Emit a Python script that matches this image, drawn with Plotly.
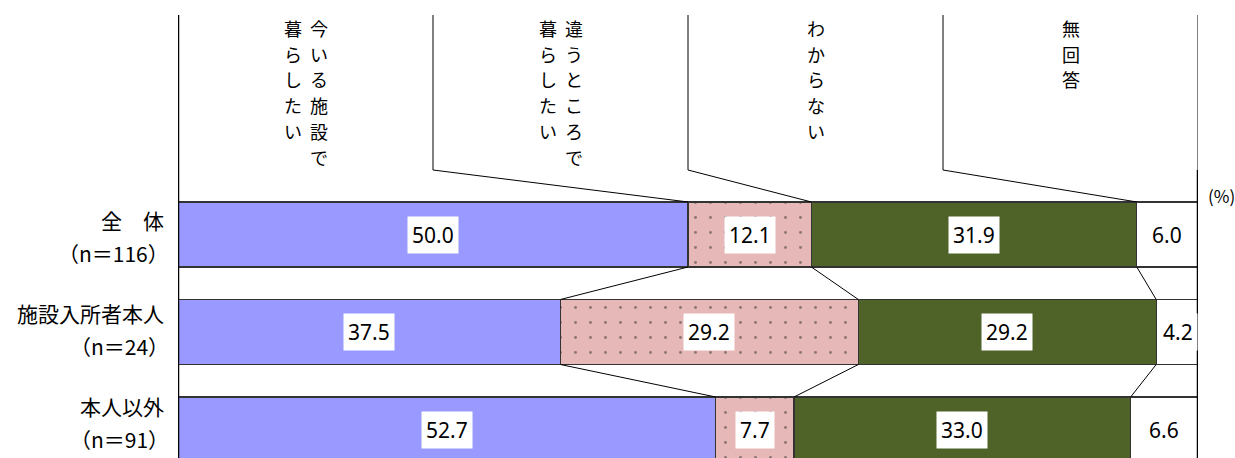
import plotly.graph_objects as go

# データ
rows = ["全　体", "施設入所者本人", "本人以外"]
ns = ["（n＝116）", "（n＝24）", "（n＝91）"]
cats = ["今いる施設で暮らしたい", "違うところで暮らしたい", "わからない", "無回答"]
# ヘッダーの縦書き (右列 → 左列)
header_cols = [["今いる施設で", "暮らしたい"], ["違うところで", "暮らしたい"], ["わからない"], ["無回答"]]
v_stay = [50.0, 37.5, 52.7]
v_move = [12.1, 29.2, 7.7]
v_unknown = [31.9, 29.2, 33.0]
v_na = [6.0, 4.2, 6.6]

FONT = "Noto Sans CJK JP, sans-serif"
NUM_FONT = "Noto Sans, sans-serif"
COLORS = ["#9999FF", "#E6B8B7", "#4F6228", "#FFFFFF"]
LINE = "#333333"

series = [v_stay, v_move, v_unknown, v_na]
ys = list(range(len(rows)))
BAR_W = 0.667
PX = 97.5  # 1 行あたりのピクセル
Y0 = 234.5  # 1 行目の中心 (px)


def py(p):
    # ピクセル位置 → y データ座標
    return (p - Y0) / PX


def pxp(p):
    # ピクセル位置 → x paper 座標
    return (p - 178) / 1020


fig = go.Figure()
for i, (name, vals) in enumerate(zip(cats, series)):
    marker = dict(color=COLORS[i], line=dict(color=LINE, width=1.3))
    if i == 1:
        marker["pattern"] = dict(shape=".", fgcolor="#333333", bgcolor=COLORS[i],
                                 size=15, solidity=0.03, fillmode="overlay")
    fig.add_trace(go.Bar(x=vals, y=ys, orientation="h", name=name, width=BAR_W,
                         marker=marker, showlegend=False, hoverinfo="skip"))

# 累積値
cums = []
for r in range(len(rows)):
    c, acc = [], 0.0
    for s in series:
        acc += s[r]
        c.append(acc)
    cums.append(c)

shapes = []
# 行間の接続線
for r in range(len(rows) - 1):
    for k in range(3):
        shapes.append(dict(type="line", xref="x", yref="y",
                           x0=cums[r][k], y0=r + BAR_W / 2, x1=cums[r + 1][k], y1=r + 1 - BAR_W / 2,
                           line=dict(color="black", width=1)))

# ヘッダーの引き出し線
y_top = py(15)
y_knee = py(170)
for k in range(3):
    xc = 25 * (k + 1)
    shapes.append(dict(type="line", xref="x", yref="y", x0=xc, y0=y_top, x1=xc, y1=y_knee,
                       line=dict(color="black", width=1)))
    shapes.append(dict(type="line", xref="x", yref="y", x0=xc, y0=y_knee, x1=cums[0][k], y1=-BAR_W / 2,
                       line=dict(color="black", width=1)))
shapes.append(dict(type="line", xref="x", yref="y", x0=100, y0=y_top, x1=100, y1=y_knee,
                   line=dict(color="black", width=1)))

y_bottom = py(458)
# 軸線
shapes.append(dict(type="line", xref="x", yref="y", x0=0, y0=y_top, x1=0, y1=y_bottom + 0.1,
                   line=dict(color="black", width=2.5)))
shapes.append(dict(type="line", xref="x", yref="y", x0=100, y0=y_knee, x1=100, y1=y_bottom + 0.1,
                   line=dict(color="black", width=2.5)))

annotations = []
# 値ラベル
for r in range(len(rows)):
    for k, s in enumerate(series):
        annotations.append(dict(x=cums[r][k] - s[r] / 2, y=r, xref="x", yref="y",
                                text=f"{s[r]:.1f}", showarrow=False, bgcolor="white",
                                borderpad=4, font=dict(size=21, color="black", family=NUM_FONT)))

# 行ラベル (2 行表示)
for r in range(len(rows)):
    shift = 4.5 * r
    annotations.append(dict(x=pxp(166), y=r + (-14.5 - shift) / PX, xref="paper", yref="y", text=rows[r],
                            showarrow=False, xanchor="right", font=dict(size=21, color="black", family=FONT)))
    annotations.append(dict(x=pxp(171), y=r + (18.5 - shift) / PX, xref="paper", yref="y", text=ns[r],
                            showarrow=False, xanchor="right", font=dict(size=21, color="black", family=FONT)))

# ヘッダー (縦書き、1 文字ずつ)
CH_STEP = 25.7
for k, cols in enumerate(header_cols):
    center = 25 * k + 12.5
    n = len(cols)
    for j, txt in enumerate(cols):
        off = (n - 1) / 2 - j  # 右から左へ
        for m, ch in enumerate(txt):
            annotations.append(dict(x=center + off * 26 / 10.2, y=py(28 + m * CH_STEP), xref="x", yref="y",
                                    text=ch, showarrow=False, xanchor="center", yanchor="middle",
                                    borderpad=0, font=dict(size=18, color="black", family=FONT)))

annotations.append(dict(x=pxp(1221), y=py(195), xref="paper", yref="y", text="(%)",
                        showarrow=False, xanchor="center",
                        font=dict(size=17, color="black", family=FONT)))

fig.update_layout(
    barmode="stack",
    width=1235, height=458,
    margin=dict(l=178, r=37, t=0, b=0),
    plot_bgcolor="white", paper_bgcolor="white",
    xaxis=dict(range=[0, 100], visible=False, fixedrange=True),
    yaxis=dict(range=[y_bottom, py(0)], visible=False, fixedrange=True),
    shapes=shapes,
    annotations=annotations,
    font=dict(family=FONT),
)
fig.write_html("out.html", config={"displayModeBar": False},
               post_script="document.body.style.margin='0';")
